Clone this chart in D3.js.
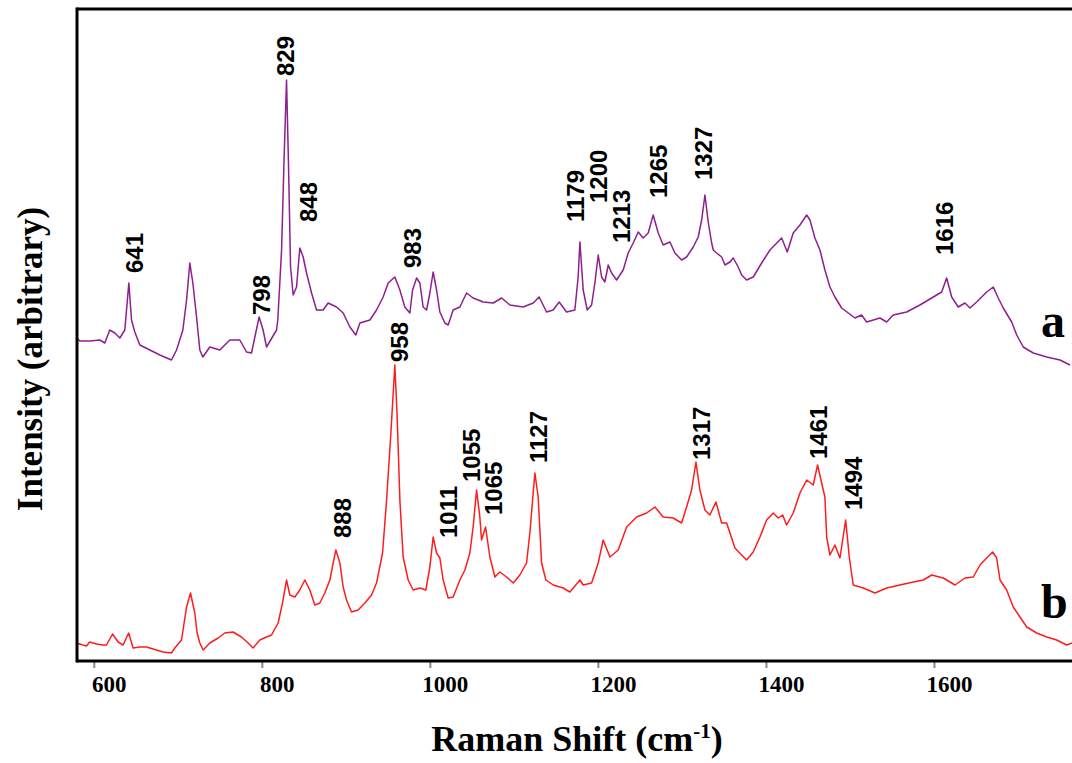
<!DOCTYPE html>
<html><head><meta charset="utf-8">
<script src="https://cdn.jsdelivr.net/npm/d3@7/dist/d3.min.js"></script>
<style>body{margin:0;background:#fff;overflow:hidden}</style>
</head><body>
<svg id="chart" width="1072" height="763"></svg>
<script>
// Raman shift (cm-1), intensity (arbitrary units)
const spectrumA = [
[580,323],[583.3,320],[595.2,320],[607.1,321],[613.1,318],[619,331],[625,328],[631,323],[636.9,331],[641.7,378],
[644.9,341],[648.8,329],[654.8,316],[666.7,311],[678.6,306],[692.5,301],[698.5,311],[706,331],[710.4,361],[714.3,398],
[717.9,378],[722.3,344],[726.2,311],[729.8,304],[738.1,314],[750,311],[761.9,321],[773.8,321],[781.8,309],[787.7,308],
[791.7,324],[796.8,344],[801.5,331],[805.6,314],[817.5,331],[819,341],[823.5,411],[826.2,494],[829.4,581],[831.8,494],
[834.2,394],[837.3,366],[841.3,374],[845.2,413],[849.2,404],[853.2,388],[859.2,368],[865.1,351],[873,351],[878.9,358],
[888.9,354],[896.8,348],[904.8,334],[911.9,326],[916.7,338],[928.6,341],[936.5,351],[944.4,364],[950.4,378],[958.3,384],
[964.3,371],[970.2,354],[976.2,348],[979.4,371],[984.2,383],[988.1,378],[992,354],[996.1,351],[1000,368],[1003.9,389],
[1008,371],[1011.9,349],[1017.9,338],[1021.8,336],[1027.7,351],[1035.7,354],[1043.7,368],[1051.5,363],[1063.5,359],[1075.4,358],
[1085.4,363],[1095.2,356],[1111.1,354],[1123,358],[1130.1,364],[1138.9,349],[1146.8,351],[1153.9,359],[1162.7,349],[1172.6,351],
[1176.5,384],[1178.6,419],[1182.5,371],[1187.3,351],[1192.5,356],[1196.4,378],[1200.4,406],[1204.4,384],[1208.3,379],[1212.3,396],
[1216.3,388],[1222.3,381],[1230.1,391],[1236.1,408],[1242,418],[1248,429],[1253.9,423],[1259.9,428],[1265.8,446],[1271.8,428],
[1277.7,416],[1285.7,419],[1291.7,408],[1299.6,401],[1305.6,404],[1313.5,414],[1319.4,424],[1323.5,441],[1327.4,466],[1331.3,439],
[1335.4,418],[1337.3,411],[1341.3,408],[1347.3,404],[1351.2,396],[1357.1,399],[1361.1,403],[1367,394],[1371.1,386],[1377,381],
[1384.9,384],[1394.9,398],[1404.8,411],[1418.7,423],[1425.4,409],[1432.5,428],[1440.5,436],[1448.5,446],[1452.4,441],[1458.3,423],
[1464.3,411],[1470.2,391],[1476.2,374],[1482.1,364],[1490.1,353],[1498,348],[1506,343],[1513.9,346],[1519.9,339],[1535.7,343],
[1543.7,339],[1551.5,346],[1567.5,349],[1583.3,356],[1599.2,364],[1609.2,369],[1615.1,383],[1621.1,364],[1628.9,354],[1636.9,358],
[1642.9,353],[1650.8,359],[1662.7,369],[1670.6,374],[1676.5,363],[1682.5,353],[1692.5,339],[1698.5,326],[1706.3,314],[1718.2,308],
[1734.2,304],[1750,301],[1761.9,296]
];
const spectrumB = [
[579.4,18],[587,16],[591.3,15],[595,19],[603.2,17],[611,16],[615.1,16],[622.3,27],[628.9,19],[634.9,16],[641.5,28],
[646.8,13],[654.8,14],[662.7,14],[674.6,11],[682.5,9],[692.5,8],[696.4,13],[704.4,21],[710.4,54],[715.1,68],[720.2,48],
[723,28],[726.2,18],[730.1,11],[738.1,18],[748,23],[755.9,28],[765.8,29],[775.8,24],[783.7,18],[789.6,13],
[797.6,21],[805.6,24],[811.5,26],[819.4,38],[824.6,58],[829.4,81],[833.3,66],[839.3,64],[845.2,71],[851.2,81],
[857.1,71],[863.1,56],[869,58],[875,68],[881,81],[884.9,98],[888.1,111],[892.9,98],[896.8,74],[900.8,61],
[906.8,49],[914.6,51],[922.6,58],[930.6,66],[936.5,78],[943.7,108],[948.5,161],[953.6,228],[958.3,296],[961.1,244],
[964.3,161],[968.2,104],[974.2,81],[980.1,71],[988.1,73],[995.2,71],[1000,94],[1003.9,124],[1008,108],[1011.9,103],
[1015.8,81],[1021.8,63],[1027.7,64],[1035.7,81],[1041.7,91],[1047.6,108],[1051.5,134],[1055.6,171],[1059.5,144],[1061.5,121],
[1066.3,134],[1071.4,104],[1077.4,84],[1083.3,89],[1091.3,84],[1099.2,78],[1107.1,86],[1115.1,98],[1119,128],[1125,188],
[1128.9,164],[1133,98],[1138.1,81],[1146.8,76],[1158.7,73],[1166.7,69],[1178.6,81],[1182.5,76],[1192.5,78],[1200.4,98],
[1206.3,121],[1214.3,104],[1224.2,111],[1234.2,134],[1246.1,144],[1258,148],[1267.9,154],[1277.7,144],[1289.6,143],[1299.6,138],
[1305.6,154],[1311.5,171],[1316.7,199],[1321.4,171],[1327.4,151],[1333.3,146],[1340.5,159],[1347.3,138],[1353.2,138],[1359.2,123],
[1363.1,113],[1371.1,106],[1377,101],[1384.9,109],[1392.9,124],[1400.8,141],[1408.7,148],[1414.6,143],[1419.9,146],[1424.6,136],
[1432.5,148],[1440.5,168],[1448.5,181],[1456.3,176],[1461.5,196],[1466.3,178],[1470.2,164],[1472.3,124],[1476.2,106],[1482.1,116],
[1488.1,103],[1494.9,141],[1499.2,104],[1503.9,76],[1515.8,73],[1529.8,68],[1543.7,73],[1559.5,76],[1575.4,79],[1587.3,81],
[1597.3,86],[1611.1,83],[1625,76],[1636.9,83],[1646.8,84],[1654.8,96],[1662.7,103],[1669.9,109],[1674.6,103],[1678.6,81],
[1686.5,71],[1694.4,54],[1702.4,44],[1710.4,34],[1722.3,28],[1734.2,24],[1746.1,21],[1758,16],[1764.3,18]
];
const xTickValues = [600, 800, 1000, 1200, 1400, 1600];
// peak annotations: text, label centre (cm-1), label base (intensity)
const peakTextA = ["641","798","829","848","983","1179","1200","1213","1265","1327","1616"];
const peakPosA  = [648.8,799.6,828.3,855.7,979.2,1173.6,1200.4,1228.2,1271.8,1325.4,1613.1];
const peakBaseA = [388,346,585,439,393,439,458,418,463,481,406];
const peakTextB = ["888","958","1011","1055","1065","1127","1317","1461","1494"];
const peakPosB  = [895.8,964.3,1021.8,1049.0,1075.4,1128.9,1322.9,1462.3,1503.9];
const peakBaseB = [123,299,123,179,146,198,201,202,151];
const seriesNames = ["a","b"];

const svg = d3.select("#chart");
const margin = {left:77, top:9, right:0, bottom:102};
const W = 1072, H = 763;
const x = d3.scaleLinear().domain([580, 1764.3]).range([margin.left, W - margin.right]);
const y = d3.scaleLinear().domain([0, 652]).range([H - margin.bottom, margin.top]);

svg.append("defs").append("clipPath").attr("id","plot")
  .append("rect").attr("x", margin.left).attr("y", margin.top)
  .attr("width", W - margin.left).attr("height", H - margin.bottom - margin.top);

const line = d3.line().x(d => x(d[0])).y(d => y(d[1]));
const g = svg.append("g").attr("clip-path","url(#plot)");
g.append("path").datum(spectrumA).attr("d", line)
  .attr("fill","none").attr("stroke","#8e1f8e").attr("stroke-width",1.5).attr("stroke-linejoin","round");
g.append("path").datum(spectrumB).attr("d", line)
  .attr("fill","none").attr("stroke","#ff1c1c").attr("stroke-width",1.5).attr("stroke-linejoin","round");

// x axis
const xAxis = d3.axisBottom(x).tickValues(xTickValues).tickSize(7).tickFormat(d3.format("d"));
const ax = svg.append("g").attr("transform", `translate(0,${H - margin.bottom})`).call(xAxis);
ax.select(".domain").remove();
ax.selectAll(".tick line").attr("stroke","#888").attr("stroke-width",2);
ax.selectAll(".tick text")
  .attr("font-family","'Liberation Serif','Times New Roman',serif")
  .attr("font-weight","bold").attr("font-size",23).attr("fill","#000")
  .attr("x", 15).attr("y", 31).attr("dy", 0);

// frame
const frameColor = "#000";
svg.append("line").attr("x1", margin.left).attr("x2", W).attr("y1", H - margin.bottom).attr("y2", H - margin.bottom)
  .attr("stroke", frameColor).attr("stroke-width",3);
svg.append("line").attr("x1", margin.left).attr("x2", margin.left).attr("y1", margin.top - 1.5).attr("y2", H - margin.bottom + 1.5)
  .attr("stroke", frameColor).attr("stroke-width",3);
svg.append("line").attr("x1", margin.left).attr("x2", W).attr("y1", margin.top).attr("y2", margin.top)
  .attr("stroke", frameColor).attr("stroke-width",3);

// peak labels
function drawLabels(texts, pos, base) {
  texts.forEach((t, i) => {
    const cx = x(pos[i]), by = y(base[i]);
    svg.append("text")
      .attr("transform", `translate(${cx + 8.5},${by}) rotate(-90)`)
      .attr("font-family","'Liberation Sans',Arial,sans-serif")
      .attr("font-weight","bold").attr("font-size",24).attr("fill","#000")
      .text(t);
  });
}
drawLabels(peakTextA, peakPosA, peakBaseA);
drawLabels(peakTextB, peakPosB, peakBaseB);

// series letters
svg.append("text").attr("x", 1041).attr("y", 337)
  .attr("font-family","'Liberation Serif',serif").attr("font-weight","bold").attr("font-size",48).text(seriesNames[0]);
svg.append("text").attr("x", 1041).attr("y", 618)
  .attr("font-family","'Liberation Serif',serif").attr("font-weight","bold").attr("font-size",48).text(seriesNames[1]);

// axis titles
const xt = svg.append("text").attr("x", 577).attr("y", 751).attr("text-anchor","middle")
  .attr("font-family","'Liberation Serif',serif").attr("font-weight","bold").attr("font-size",36);
xt.append("tspan").text("Raman Shift (cm");
xt.append("tspan").attr("dy",-13).attr("font-size",21).text("-1");
xt.append("tspan").attr("dy",13).text(")");

svg.append("text").attr("transform","translate(42,359) rotate(-90)").attr("text-anchor","middle")
  .attr("font-family","'Liberation Serif',serif").attr("font-weight","bold").attr("font-size",35)
  .text("Intensity (arbitrary)");
</script>
</body></html>
